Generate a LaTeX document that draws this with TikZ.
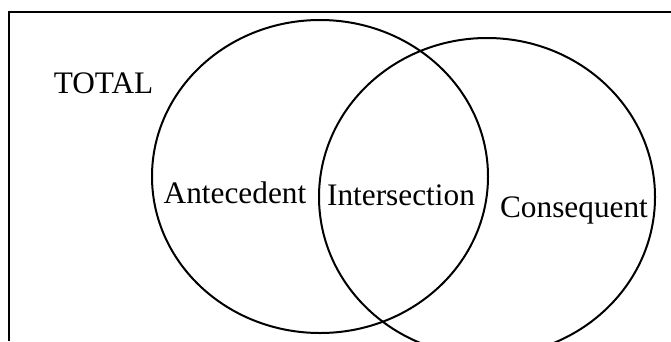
\documentclass[tikz,border=0pt]{standalone}
\usepackage{fontspec}
\setmainfont{Liberation Serif}
\begin{document}
\begin{tikzpicture}[x=1pt,y=-1pt,
  setline/.style={line width=2pt},
  label/.style={inner sep=0pt,anchor=base,font=\fontsize{31.3}{36}\selectfont}]
  \useasboundingbox (0,0) rectangle (671,341);
  \clip (0,0) rectangle (671,341);
  % frame (top and left edges)
  \draw[setline] (8.5,341) -- (8.5,11.5) -- (671,11.5);
  % the two sets
  \coordinate (A) at (320,176.5);
  \coordinate (C) at (487,197);
  \draw[setline] (A) ellipse [x radius=168, y radius=156.5];
  \draw[setline] (C) ellipse [x radius=168, y radius=159];
  % labels
  \node[label] (total) at (103.5,93) {TOTAL};
  \node[label] (ante) at (235,203) {Antecedent};
  \node[label] (inter) at (401,205) {Intersection};
  \node[label] (cons) at (574,217) {Consequent};
\end{tikzpicture}
\end{document}
